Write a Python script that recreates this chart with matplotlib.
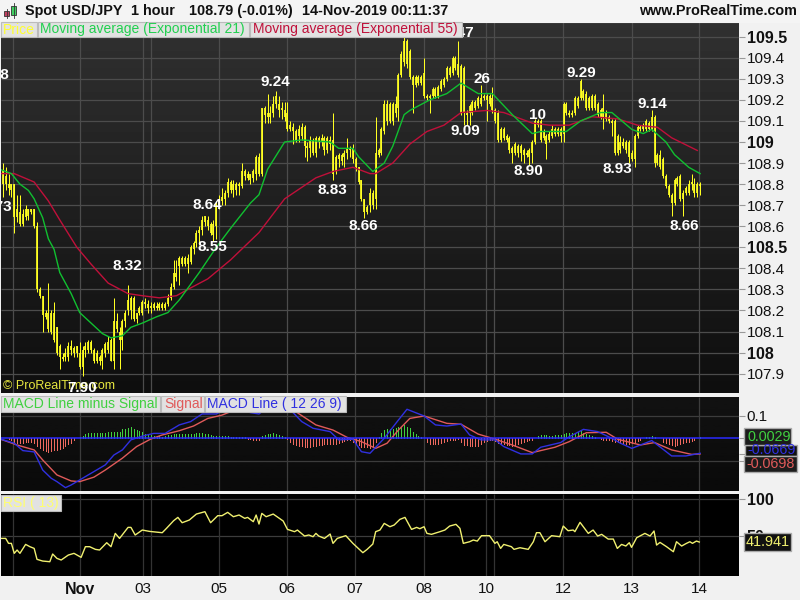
import numpy as np
import matplotlib
matplotlib.use('Agg')
import matplotlib.pyplot as plt
from matplotlib.patches import Rectangle

# hourly bars (open/close only kept as body top/bottom)
body_top = [
    108.84,108.86,108.84,108.80,108.80,108.80,108.68,108.67,108.66,108.68,
    108.68,108.68,108.68,108.60,108.30,108.27,108.19,108.19,108.19,108.19,
    108.12,108.03,107.98,108.00,108.03,108.03,108.02,108.03,108.00,108.01,
    108.03,108.05,108.05,108.01,108.00,107.98,108.01,108.04,108.05,108.06,
    108.15,108.15,108.10,108.15,108.19,108.25,108.26,108.26,108.19,108.21,
    108.24,108.24,108.23,108.22,108.23,108.22,108.23,108.23,108.23,108.26,
    108.31,108.38,108.38,108.45,108.45,108.45,108.45,108.50,108.52,108.57,
    108.58,108.63,108.65,108.63,108.61,108.61,108.71,108.73,108.74,108.76,
    108.81,108.81,108.80,108.80,108.80,108.86,108.86,108.85,108.85,108.86,
    108.93,108.93,109.16,109.16,109.14,109.14,109.18,109.22,109.18,109.16,
    109.15,109.14,109.08,109.07,109.05,109.06,109.07,109.07,108.98,109.01,
    109.01,109.02,109.02,109.02,109.02,109.02,109.01,109.01,108.93,108.94,
    108.94,108.95,108.97,108.97,108.97,108.92,108.88,108.82,108.73,108.69,
    108.76,108.76,108.95,108.96,109.06,109.18,109.18,109.18,109.18,109.18,
    109.32,109.42,109.48,109.48,109.43,109.31,109.31,109.31,109.31,109.33,
    109.22,109.22,109.25,109.25,109.26,109.29,109.30,109.35,109.35,109.40,
    109.40,109.37,109.36,109.35,109.14,109.17,109.19,109.19,109.21,109.21,
    109.22,109.22,109.22,109.21,109.15,109.14,109.06,109.06,109.03,109.02,
    108.97,108.99,108.98,108.98,108.96,108.95,108.96,109.00,109.10,109.10,
    109.10,109.05,109.03,109.04,109.06,109.06,109.06,109.06,109.18,109.18,
    109.14,109.14,109.21,109.21,109.29,109.24,109.23,109.21,109.22,109.22,
    109.18,109.15,109.16,109.14,109.12,109.10,109.10,109.03,109.00,109.00,
    109.00,109.00,108.95,109.03,109.07,109.07,109.08,109.10,109.09,109.12,
    109.12,108.94,108.94,108.92,108.84,108.79,108.75,108.82,108.83,108.84,
    108.76,108.78,108.80,108.81,108.80,108.80,108.80]
body_bot = [
    108.82,108.80,108.80,108.78,108.77,108.645,108.645,108.61,108.61,108.645,
    108.65,108.67,108.60,108.30,108.27,108.18,108.17,108.11,108.10,108.06,
    108.00,107.98,107.97,107.98,107.98,108.01,108.00,108.00,107.93,107.93,
    108.01,108.01,108.01,107.96,107.96,107.96,107.96,108.00,108.01,107.96,
    107.96,108.11,108.06,108.06,108.15,108.20,108.20,108.16,108.16,108.19,
    108.19,108.23,108.21,108.21,108.21,108.21,108.21,108.21,108.21,108.23,
    108.26,108.31,108.36,108.41,108.42,108.42,108.42,108.43,108.49,108.52,
    108.57,108.58,108.62,108.60,108.57,108.56,108.60,108.70,108.72,108.73,
    108.76,108.77,108.77,108.77,108.79,108.79,108.84,108.83,108.82,108.83,
    108.85,108.85,108.85,109.13,109.12,109.12,109.14,109.18,109.15,109.15,
    109.12,109.06,109.06,109.05,109.01,109.03,109.03,108.98,108.97,108.97,
    108.95,108.95,109.00,109.00,108.96,108.96,108.99,108.85,108.86,108.92,
    108.91,108.93,108.95,108.96,108.92,108.88,108.81,108.73,108.67,108.67,
    108.70,108.70,108.73,108.94,108.95,109.05,109.10,109.10,109.10,109.14,
    109.16,109.32,109.38,109.37,109.31,109.27,109.27,109.28,109.28,109.22,
    109.21,109.21,109.22,109.22,109.22,109.25,109.27,109.30,109.32,109.33,
    109.35,109.32,109.14,109.14,109.13,109.14,109.14,109.16,109.17,109.18,
    109.21,109.20,109.18,109.15,109.10,109.01,109.01,109.02,109.01,108.96,
    108.95,108.95,108.95,108.95,108.94,108.94,108.93,108.95,109.00,109.08,
    109.01,109.02,108.99,109.01,109.03,109.04,109.04,109.03,109.04,109.14,
    109.13,109.13,109.14,109.17,109.21,109.21,109.16,109.16,109.16,109.16,
    109.13,109.12,109.12,109.11,109.10,109.09,108.95,108.95,108.96,108.98,
    108.96,108.93,108.92,108.92,109.03,109.06,109.06,109.06,109.06,109.06,
    108.90,108.90,108.88,108.84,108.79,108.75,108.71,108.71,108.80,108.73,
    108.73,108.76,108.76,108.80,108.76,108.76,108.79]
bar_high = [
    108.88,108.90,108.88,108.85,108.80,108.80,108.75,108.75,108.68,108.70,
    108.68,108.68,108.68,108.62,108.31,108.27,108.20,108.33,108.20,108.24,
    108.12,108.04,108.00,108.02,108.05,108.06,108.03,108.03,108.05,108.03,
    108.05,108.06,108.06,108.02,108.01,107.99,108.02,108.05,108.08,108.07,
    108.26,108.19,108.12,108.16,108.20,108.32,108.27,108.27,108.19,108.22,
    108.25,108.26,108.25,108.24,108.24,108.24,108.24,108.24,108.24,108.28,
    108.33,108.44,108.44,108.46,108.46,108.46,108.47,108.51,108.53,108.58,
    108.60,108.65,108.65,108.65,108.62,108.63,108.72,108.75,108.78,108.77,
    108.83,108.82,108.82,108.81,108.81,108.90,108.87,108.86,108.85,108.87,
    108.94,108.95,109.16,109.17,109.23,109.17,109.22,109.24,109.22,109.19,
    109.19,109.19,109.10,109.09,109.06,109.08,109.09,109.08,109.00,109.03,
    109.02,109.03,109.03,109.04,109.03,109.03,109.03,109.14,108.94,108.95,
    108.95,108.96,109.02,108.98,108.99,108.93,108.88,108.82,108.73,108.70,
    108.78,108.77,109.12,108.97,109.07,109.20,109.20,109.19,109.19,109.22,
    109.33,109.43,109.50,109.49,109.44,109.32,109.32,109.32,109.32,109.40,
    109.23,109.23,109.26,109.26,109.27,109.30,109.31,109.36,109.36,109.41,
    109.41,109.48,109.37,109.36,109.15,109.18,109.20,109.20,109.22,109.27,
    109.23,109.23,109.23,109.26,109.16,109.15,109.07,109.07,109.04,109.03,
    108.98,109.00,108.99,108.99,108.97,108.96,108.97,109.01,109.11,109.11,
    109.11,109.06,109.04,109.05,109.08,109.07,109.07,109.07,109.19,109.19,
    109.15,109.15,109.22,109.22,109.30,109.25,109.24,109.22,109.23,109.23,
    109.19,109.16,109.23,109.15,109.13,109.11,109.11,109.04,109.03,109.02,
    109.01,109.01,108.96,109.04,109.08,109.08,109.09,109.11,109.10,109.15,
    109.13,108.95,108.96,108.93,108.85,108.80,108.76,108.83,108.84,108.85,
    108.77,108.79,108.82,108.85,108.83,108.81,108.81]
bar_low = [
    108.80,108.74,108.77,108.75,108.74,108.57,108.62,108.60,108.60,108.63,
    108.63,108.66,108.59,108.29,108.26,108.10,108.16,108.10,108.09,108.05,
    107.99,107.92,107.96,107.96,107.96,107.99,107.98,107.98,107.92,107.89,
    107.98,108.00,108.00,107.95,107.95,107.94,107.92,107.98,108.00,107.96,
    107.92,108.10,107.92,108.01,108.12,108.18,108.16,108.15,108.14,108.18,
    108.18,108.21,108.19,108.19,108.20,108.20,108.20,108.20,108.20,108.22,
    108.25,108.30,108.34,108.32,108.41,108.41,108.38,108.42,108.47,108.50,
    108.51,108.56,108.60,108.58,108.56,108.53,108.54,108.68,108.70,108.70,
    108.74,108.76,108.74,108.75,108.75,108.78,108.82,108.82,108.80,108.81,
    108.82,108.84,108.84,109.09,109.09,109.09,109.12,109.16,109.12,109.11,
    109.10,109.05,109.05,108.99,109.00,109.00,109.01,108.93,108.91,108.93,
    108.94,108.93,108.97,108.98,108.94,108.95,108.96,108.82,108.85,108.88,
    108.89,108.88,108.92,108.93,108.90,108.86,108.80,108.72,108.64,108.66,
    108.67,108.68,108.68,108.93,108.94,109.04,109.08,109.09,109.08,109.12,
    109.10,109.31,109.36,109.35,109.30,109.14,109.26,109.27,109.27,109.21,
    109.20,109.14,109.21,109.21,109.21,109.24,109.26,109.29,109.31,109.32,
    109.34,109.31,109.13,109.08,109.08,109.08,109.13,109.15,109.16,109.17,
    109.20,109.10,109.17,109.14,109.09,109.00,109.00,109.01,109.00,108.95,
    108.90,108.94,108.93,108.91,108.90,108.93,108.89,108.90,108.99,109.07,
    109.00,109.01,108.92,109.00,109.02,109.03,109.03,109.00,109.00,109.13,
    109.12,109.12,109.13,109.16,109.20,109.20,109.15,109.15,109.15,109.15,
    109.12,109.11,109.06,109.10,109.09,109.03,108.94,108.94,108.95,108.97,
    108.95,108.90,108.91,108.88,109.02,109.05,109.05,109.05,109.05,109.05,
    108.88,108.89,108.87,108.83,108.78,108.74,108.65,108.70,108.79,108.72,
    108.65,108.75,108.75,108.77,108.74,108.74,108.75]

# moving averages, knots
ema21_bars = [0,4,7,10,12,15,17,19,21,25,28,32,36,39,43,46,50,55,59,63,70,76,81,88,91,94,100,106,116,119,124,126,131,135,138,142,144,151,157,162,168,173,180,187,190,193,199,204,211,215,222,226,229,234,237,242,246]
ema21_vals = [108.87,108.85,108.80,108.77,108.73,108.64,108.54,108.49,108.38,108.28,108.19,108.14,108.09,108.07,108.08,108.12,108.14,108.17,108.19,108.25,108.38,108.50,108.59,108.71,108.75,108.87,109.00,109.01,109.00,108.97,108.97,108.93,108.86,108.90,108.98,109.13,109.15,109.20,109.23,109.28,109.23,109.23,109.13,109.04,109.05,109.05,109.05,109.10,109.14,109.14,109.06,109.04,109.06,109.00,108.94,108.88,108.85]
ema55_bars = [0,5,12,17,21,27,32,38,45,50,56,62,66,73,81,91,100,111,117,124,130,132,138,144,150,156,162,171,177,187,193,200,208,217,224,231,236,245]
ema55_vals = [108.85,108.85,108.81,108.72,108.63,108.50,108.42,108.33,108.28,108.27,108.26,108.27,108.30,108.35,108.44,108.57,108.73,108.83,108.86,108.88,108.85,108.85,108.90,108.99,109.05,109.08,109.14,109.15,109.14,109.09,109.08,109.08,109.12,109.11,109.08,109.07,109.02,108.96]

# MACD panel, values in thousandths
hist_milli = [0,0,0,-4,-9,-15,-22,-22,-21,-15,-15,-18,-22,-33,-45,-52,-57,-63,-57,-52,-51,-48,-42,-36,-27,-19,-9,
    3,6,9,19,22,22,22,22,22,24,25,28,30,30,28,27,40,42,45,49,42,37,33,30,21,16,13,12,10,9,7,12,15,15,18,19,21,18,18,18,18,19,22,22,22,21,18,15,12,12,12,10,9,9,7,6,6,6,6,4,-3,-4,-6,-6,-7,10,16,19,21,22,19,15,9,4,-3,
    -18,-24,-30,-33,-36,-37,-39,-37,-36,-33,-30,-30,-27,-27,-27,-27,-24,-21,-18,-12,-9,-7,-15,-22,-30,-37,-37,-37,-42,-33,-15,
    7,22,37,42,42,42,45,52,
    52,60,51,45,27,18,12,6,3,-15,-24,-27,-27,-25,-21,-18,-13,-9,-7,-6,
    -4,-18,-30,-31,-34,-36,-34,-33,-24,-16,-12,-9,-7,-13,-21,-24,-27,-30,-31,-33,
    -28,-24,-19,-16,-13,-9,-6,3,9,13,15,15,12,12,13,13,13,19,22,24,
    22,22,28,33,24,21,15,10,6,1,-4,-6,-7,-9,-12,-15,-18,-22,-24,-25,
    -27,-22,-18,-13,-9,3,6,7,9,7,3,1,-15,-22,-25,-30,-33,-28,-24,-21,
    -18,-15,-10,-6,1,4]
macd_bars = [0,5,8,12,15,18,20,23,25,29,33,37,40,43,46,50,54,58,63,67,71,76,81,88,91,95,103,106,110,116,119,124,127,130,135,140,143,149,153,157,162,165,169,174,177,183,187,190,197,200,205,210,215,218,222,229,236,241,246]
macd_milli = [-3,-22,-55,-61,-142,-179,-194,-221,-209,-179,-149,-119,-75,-52,-7,10,22,22,60,75,109,109,142,115,109,149,115,75,45,30,-7,-4,-60,-67,0,82,130,100,60,55,64,15,-7,-7,-37,-70,-70,-40,-19,7,40,30,0,-22,-45,-10,-79,-79,-67]
signal_bars = [0,6,12,15,20,25,28,33,37,43,48,53,57,63,68,73,78,82,89,97,103,111,117,122,127,132,136,140,144,149,157,162,168,174,180,187,195,200,206,213,217,225,230,236,243,246]
signal_milli = [-3,-30,-52,-97,-164,-191,-194,-174,-142,-89,-37,-3,15,34,55,89,104,124,145,156,127,60,37,4,-15,-45,-22,37,89,100,67,63,19,-4,-30,-64,-40,-15,25,27,-4,-30,-19,-52,-72,-70]

# RSI(13)
rsi_bars = [0,2,3,4,5,6,7,9,10.5,12,13,15,17.5,18.5,20,21.5,24,26,28.5,30,31.5,33.5,35,37.5,39,40.5,42,45,46,47.5,50,52.5,57,58.5,61,62.5,64,66.5,69,72,74,76.5,78,80,82,84,86,87,89,90,91,92,93.5,96,99.5,101,103.5,104.5,107,108.5,110,111,112,114,116,117,118.5,121.5,124,127.5,129,131,132,133.5,135,137,138.5,140.5,
    142.3,144.6,146.4,147.5,149,150,151.6,154.6,156.3,158,160.2,161.6,162.8,165,166.3,167.7,169.2,172,173.9,174.7,175.9,177,179.7,180.6,182.7,185.6,187.4,188.5,189.7,191.5,193.8,196.7,197.9,199.6,201.4,202,203.8,206.7,208.4,210,211.4,213.7,215.5,216.9,218.4,219.9,221.1,221.9,223.7,226.6,228.4,229.8,230.7,231.9,234.2,236.6,237.7,239.5,241.2,242.4,243.3,244.7,245.7]
rsi_vals = [46.8,46.8,40.1,40.1,26.6,31.1,26.6,38.7,35.6,33.3,18.5,16.2,15.3,25.7,19.8,17.6,24.3,26.6,21.2,35.6,35.6,32.0,31.1,41.0,35.6,53.6,46.8,61.7,61.7,51.4,58.1,56.3,54.5,60.4,70.7,75.2,68.0,71.6,79.7,82.9,68.0,77.5,77.5,82.0,76.1,78.4,73.9,75.2,69.4,78.4,66.2,80.6,76.1,79.7,70.3,59.0,55.9,58.1,50.0,51.4,49.1,53.6,50.0,46.8,52.7,40.1,46.8,50.5,40.1,27.5,32.0,39.2,55.9,58.1,67.1,62.6,64.9,72.5,
    75.2,59.0,61.7,59.9,62.6,53.6,52.3,55.9,58.1,63.5,65.8,60.4,40.1,42.3,44.6,43.2,50.5,50.5,40.1,42.3,33.3,38.7,35.6,32.0,34.2,32.0,42.3,54.5,54.5,42.3,50.5,49.1,63.5,57.2,58.1,55.9,68.5,53.6,58.1,50.0,52.3,45.9,45.9,33.3,38.7,36.5,41.0,34.7,47.7,53.6,50.0,56.8,37.8,41.4,35.6,28.8,42.3,36.5,40.1,42.3,40.1,43.2,41.9]

# axis ticks
date_ticks = [28.1,50.2,76.9,100.8,124.7,149,170.8,197.8,222,245.6]
date_labels = ['Nov','03','05','06','07','08','10','12','13','14']
extra_vticks = [4.6,53.1,173.6]
price_ticks = [109.5,109.4,109.3,109.2,109.1,109,108.9,108.8,108.7,108.6,108.5,108.4,108.3,108.2,108.1,108,107.9]
price_labels = ['109.5','109.4','109.3','109.2','109.1','109','108.9','108.8','108.7','108.6','108.5','108.4','108.3','108.2','108.1','108','107.9']
bold_prices = ['109.5','109','108.5','108']

# swing labels typed on the chart by hand
note_text = ['9.24','8.64','8.55','8.32','7.90','8.83','8.66','9.47','9.09','26','10','8.90','9.29','8.93','9.14','8.66','8.98','8.73']
note_bar = [96.6,73,74.5,44.6,28.8,116.7,127.5,161.3,163.4,169.4,188.7,185.5,204.1,216.8,229.1,240.3,-2.1,-1]
note_price = [109.285,108.70,108.50,108.41,107.83,108.77,108.60,109.52,109.05,109.30,109.13,108.86,109.33,108.87,109.18,108.60,109.32,108.69]

FONT = 'Liberation Sans'
plt.rcParams['font.family'] = FONT

W, H = 800, 600
fig = plt.figure(figsize=(8, 6), dpi=100, facecolor='#f1f1f1')


def panel(top, bottom, left=1, right=739):
    return fig.add_axes([left / W, 1 - bottom / H, (right - left) / W, (bottom - top) / H])


def gradient(ax, c_top, c_bot):
    g = np.linspace(c_top, c_bot, 64).reshape(64, 1)
    ax.imshow(g, cmap='gray', vmin=0, vmax=255, aspect='auto', extent=(0, 1, 0, 1),
              transform=ax.transAxes, zorder=0)


xs = np.arange(len(body_top))
xlim = (0.35, 259.66)
grid_c = '#4c4c4c'

# --- price panel
ax = panel(22, 393)
gradient(ax, 48, 14)
ax.set_xlim(*xlim)
ax.set_ylim(107.808, 109.57)
ax.hlines(price_ticks, *xlim, color=grid_c, lw=0.9, zorder=1)
ax.vlines(date_ticks + extra_vticks, 107.808, 109.57, color=grid_c, lw=0.9, zorder=1)
ax.vlines(xs, bar_low, bar_high, color='#ffff22', lw=0.72, zorder=3)
ax.vlines(xs, body_bot, body_top, color='#ffff22', lw=1.25, zorder=3)
ax.plot(ema55_bars, ema55_vals, color='#c0103a', lw=1.0, zorder=4)
ax.plot(ema21_bars, ema21_vals, color='#10c030', lw=1.0, zorder=4)
ax.yaxis.tick_right()
ax.set_yticks(price_ticks)
ax.set_yticklabels(price_labels)
for t in ax.get_yticklabels():
    t.set_fontsize(11.5 if t.get_text() in bold_prices else 11)
    t.set_fontweight('bold' if t.get_text() in bold_prices else 'normal')
    t.set_color('#111111')
ax.tick_params(axis='y', length=4, width=0.8, color='#999999', pad=1.5)
ax.set_xticks([])
for s in ax.spines.values():
    s.set_visible(False)
for txt, bx, py in zip(note_text, note_bar, note_price):
    ax.text(bx, py, txt, color='white', fontsize=11, fontweight='bold',
            ha='center', va='center', zorder=6, clip_on=True)
ax.text(1, 107.84, '\u00a9 ProRealTime.com', color='#e8e840', fontsize=9, va='center', zorder=5)

# --- MACD panel
ax2 = panel(397, 491)
gradient(ax2, 18, 10)
ax2.set_xlim(*xlim)
ax2.set_ylim(-0.236, 0.185)
ax2.hlines([0.1, -0.1], *xlim, color='#3c3c3c', lw=0.9, zorder=1)
ax2.vlines(date_ticks + extra_vticks, -0.236, 0.185, color='#3c3c3c', lw=0.9, zorder=1)
hist = np.array(hist_milli) / 1000
ax2.vlines(xs[hist >= 0], 0, hist[hist >= 0], color='#40d040', lw=0.72, zorder=2, antialiased=False)
ax2.vlines(xs[hist < 0], hist[hist < 0], 0, color='#f06a60', lw=0.72, zorder=2, antialiased=False)
ax2.plot(signal_bars, np.array(signal_milli) / 1000, color='#e05a5a', lw=1.0, zorder=3)
ax2.plot(macd_bars, np.array(macd_milli) / 1000, color='#3030e0', lw=1.0, zorder=4)
ax2.axhline(0, color='#2a2aff', lw=1.1, zorder=4)
ax2.yaxis.tick_right()
ax2.set_yticks([0.1, 0, -0.1, -0.07])
ax2.set_yticklabels(['0.1', '', '', ''], fontsize=11, color='#111111')
ax2.tick_params(axis='y', length=4, width=0.8, color='#999999', pad=1.5)
for tk, c in zip(ax2.yaxis.get_major_ticks(), ['#999999', '#40c040', '#999999', '#e05a5a']):
    tk.tick2line.set_color(c)
ax2.set_xticks([])
for s in ax2.spines.values():
    s.set_visible(False)

# --- RSI panel
ax3 = panel(494, 576)
ax3.set_facecolor('black')
ax3.set_xlim(*xlim)
ax3.set_ylim(-4, 106.8)
ax3.hlines([100, 50], *xlim, color='#3c3c3c', lw=0.9, zorder=1)
ax3.vlines(date_ticks + extra_vticks, -4, 106.8, color='#333333', lw=0.9, zorder=1)
ax3.plot(rsi_bars, rsi_vals, color='#f0f070', lw=1.0, zorder=3)
ax3.yaxis.tick_right()
ax3.set_yticks([100, 50])
ax3.set_yticklabels(['100', '50'], fontsize=11.5, fontweight='bold', color='#111111')
ax3.tick_params(axis='y', length=4, width=0.8, color='#999999', pad=1.5)
ax3.set_xticks(date_ticks)
ax3.set_xticklabels(date_labels, fontsize=11, color='#111111')
ax3.get_xticklabels()[0].set_fontweight('bold')
ax3.get_xticklabels()[0].set_fontsize(11.5)
ax3.tick_params(axis='x', length=0, pad=4)
for s in ax3.spines.values():
    s.set_visible(False)

# --- window chrome, pixel coordinates
top = fig.add_axes([0, 0, 1, 1], zorder=10)
top.set_xlim(0, W)
top.set_ylim(H, 0)
top.axis('off')
top.patch.set_alpha(0)


def box(x0, y0, x1, y1, face, edge='#bbbbbb', lw=0.8):
    top.add_patch(Rectangle((x0, y0), x1 - x0, y1 - y0, fc=face, ec=edge, lw=lw))


def label(x, y, s, color='#111111', size=10, weight='normal', ha='left'):
    top.text(x, y, s, color=color, fontsize=size, fontweight=weight, ha=ha, va='center')


# header strip
box(0, 0, 800, 22, '#f4f4f4', edge='#f4f4f4')
top.add_patch(Rectangle((4, 11), 5, 5, fc='#c04060', ec='#333333', lw=0.6))
top.plot([6.5, 6.5], [9, 18], color='#333333', lw=0.6)
top.add_patch(Rectangle((11, 6), 5, 9, fc='#40d060', ec='#333333', lw=0.6))
top.plot([13.5, 13.5], [3, 18], color='#333333', lw=0.6)
label(25, 11, 'Spot USD/JPY', size=10.4, weight='bold')
label(131, 11, '1 hour', size=10.4, weight='bold')
label(189, 11, '108.79 (-0.01%)', size=10.4, weight='bold')
label(302, 11, '14-Nov-2019 00:11:37', size=10.4, weight='bold')
label(797, 11, 'www.ProRealTime.com', size=10.4, weight='bold', ha='right')

# legend tabs
box(1, 22, 37, 37, '#e2e2e2')
label(3, 29.5, 'Price', color='#ffff30')
box(38, 22, 249, 37, '#e2e2e2')
label(40, 29.5, 'Moving average (Exponential 21)', color='#22d050')
box(250, 22, 462, 37, '#e2e2e2')
label(253, 29.5, 'Moving average (Exponential 55)', color='#c0103a')
box(1, 396, 160, 412, '#e2e2e2')
label(3, 404, 'MACD Line minus Signal', color='#40d040')
box(161, 396, 204, 412, '#e2e2e2')
label(164, 404, 'Signal', color='#e05a5a')
box(205, 396, 346, 412, '#e2e2e2')
label(207, 404, 'MACD Line ( 12 26 9)', color='#3030e0')
box(1, 495, 61, 511, '#e2e2e2')
label(3, 503, 'RSI ( 13)', color='#ffff70')

# last value flags
box(745, 445, 797, 456, '#111111', edge='#aaaaaa', lw=1)
label(747, 450, '-0.0669', color='#3030e0', size=10.4)
box(744, 428, 791, 445, '#1c1c1c', edge='#aaaaaa', lw=1)
label(747, 437, '0.0029', color='#40d040', size=10.4)
box(744, 456, 797, 472, '#1c1c1c', edge='#aaaaaa', lw=1)
label(746, 464, '-0.0698', color='#e05a5a', size=10.4)
box(744, 533, 791, 551, '#111111', edge='#aaaaaa', lw=1)
label(746, 542, '41.941', color='#f0f070', size=10.4)

fig.savefig('out.png', dpi=100, facecolor=fig.get_facecolor())
